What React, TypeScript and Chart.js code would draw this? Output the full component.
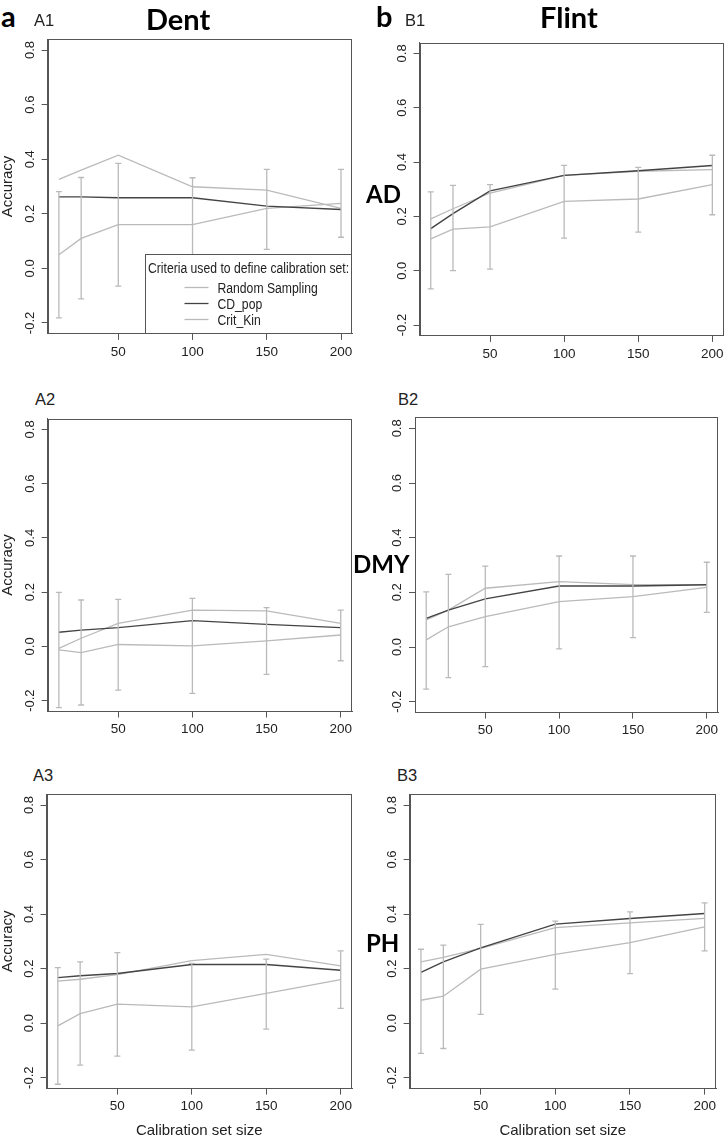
import React, { useEffect, useRef } from "react";
import { Chart, registerables } from "chart.js";

Chart.register(...registerables);

// ---------- data ----------
const sizes = [10, 25, 50, 100, 150, 200];
const xTicks = [50, 100, 150, 200];
const yTicks = [-0.2, 0, 0.2, 0.4, 0.6, 0.8];
const seriesNames = ["Random Sampling", "CD_pop", "Crit_Kin"];
const legendTitle = "Criteria used to define calibration set:";

// A1 — Dent, AD
const a1Random = [0.05, 0.11, 0.16, 0.16, 0.22, 0.238];
const a1CdPop = [0.262, 0.262, 0.259, 0.259, 0.228, 0.216];
const a1CritKin = [0.326, 0.36, 0.415, 0.299, 0.287, 0.22];
const a1Low = [-0.181, -0.112, -0.065, -0.012, 0.07, 0.114];
const a1High = [0.281, 0.333, 0.385, 0.332, 0.363, 0.363];

// B1 — Flint, AD
const b1Random = [0.117, 0.153, 0.161, 0.255, 0.264, 0.317];
const b1CdPop = [0.155, 0.21, 0.294, 0.351, 0.368, 0.387];
const b1CritKin = [0.191, 0.228, 0.286, 0.351, 0.366, 0.372];
const b1Low = [-0.067, 0.0, 0.006, 0.12, 0.142, 0.206];
const b1High = [0.29, 0.314, 0.317, 0.388, 0.38, 0.425];

// A2 — Dent, DMY
const a2Random = [-0.013, -0.023, 0.007, 0.002, 0.02, 0.042];
const a2CdPop = [0.052, 0.06, 0.069, 0.095, 0.081, 0.069];
const a2CritKin = [-0.007, 0.03, 0.085, 0.134, 0.131, 0.085];
const a2Low = [-0.226, -0.216, -0.161, -0.173, -0.103, -0.053];
const a2High = [0.199, 0.171, 0.173, 0.177, 0.143, 0.134];

// B2 — Flint, DMY
const b2Random = [0.026, 0.074, 0.111, 0.166, 0.184, 0.218];
const b2CdPop = [0.105, 0.135, 0.176, 0.223, 0.223, 0.228];
const b2CritKin = [0.099, 0.135, 0.215, 0.239, 0.228, 0.228];
const b2Low = [-0.154, -0.112, -0.072, -0.007, 0.034, 0.127];
const b2High = [0.202, 0.266, 0.296, 0.333, 0.333, 0.31];

// A3 — Dent, PH
const a3Random = [-0.01, 0.035, 0.07, 0.06, 0.109, 0.16];
const a3CdPop = [0.167, 0.174, 0.182, 0.215, 0.215, 0.194];
const a3CritKin = [0.154, 0.161, 0.178, 0.229, 0.252, 0.21];
const a3Low = [-0.224, -0.154, -0.121, -0.099, -0.022, 0.054];
const a3High = [0.204, 0.225, 0.259, 0.219, 0.235, 0.265];

// B3 — Flint, PH
const b3Random = [0.084, 0.099, 0.198, 0.252, 0.295, 0.353];
const b3CdPop = [0.186, 0.225, 0.276, 0.363, 0.384, 0.402];
const b3CritKin = [0.225, 0.241, 0.274, 0.35, 0.368, 0.384];
const b3Low = [-0.111, -0.093, 0.032, 0.125, 0.182, 0.265];
const b3High = [0.271, 0.286, 0.362, 0.374, 0.408, 0.441];

// ---------- style ----------
const FAMILY = "'Liberation Sans', Arial, sans-serif";
const BOLD_FAMILY = "Lato, 'Open Sans', sans-serif";
const LIGHT = "#bababa";
const DARK = "#444444";
const AXIS = "#555555";
const TEXT = "#222222";

type Box = { l: number; r: number; t: number; b: number };
type PanelProps = {
  box: Box;
  canvasLeft: number;
  random: number[];
  cdPop: number[];
  critKin: number[];
  low: number[];
  high: number[];
  yTitle: boolean;
  xTitle: boolean;
  legend: boolean;
};

function Panel(p: PanelProps) {
  const ref = useRef<HTMLCanvasElement | null>(null);
  const cTop = Math.floor(p.box.t - 4);
  const cBottom = p.xTitle ? 1141 : Math.ceil(p.box.b + 32);
  const cRight = Math.min(728, Math.ceil(p.box.r + 5));
  const W = cRight - p.canvasLeft;
  const H = cBottom - cTop;
  const Ly = p.box.l - p.canvasLeft;
  const padTop = p.box.t - cTop;
  const padRight = cRight - p.box.r;
  const Lx = cBottom - p.box.b;

  useEffect(() => {
    if (!ref.current) return;
    const errorBars = {
      id: "errorBars",
      afterDatasetsDraw(chart: any) {
        const { ctx, scales } = chart;
        const x = scales.x;
        const y = scales.y;
        ctx.save();
        ctx.strokeStyle = LIGHT;
        ctx.lineWidth = 1.3;
        sizes.forEach((s, i) => {
          const px = x.getPixelForValue(s);
          const y1 = y.getPixelForValue(p.low[i]);
          const y2 = y.getPixelForValue(p.high[i]);
          ctx.beginPath();
          ctx.moveTo(px, y1);
          ctx.lineTo(px, y2);
          ctx.moveTo(px - 3, y1);
          ctx.lineTo(px + 3, y1);
          ctx.moveTo(px - 3, y2);
          ctx.lineTo(px + 3, y2);
          ctx.stroke();
        });
        ctx.restore();
      },
    };
    const frame = {
      id: "frame",
      afterDraw(chart: any) {
        const { ctx, chartArea: a } = chart;
        ctx.save();
        ctx.strokeStyle = AXIS;
        ctx.lineWidth = 1;
        const l = Math.round(a.left) + 0.5;
        const t = Math.round(a.top) + 0.5;
        const r = Math.round(a.right) - 0.5;
        const b = Math.round(a.bottom) - 0.5;
        ctx.strokeRect(l, t, r - l, b - t);
        if (p.legend) {
          const w = 207;
          const h = 80;
          const x0 = Math.round(a.right - w) + 0.5;
          const y0 = Math.round(a.bottom - h) + 0.5;
          ctx.fillStyle = "#ffffff";
          ctx.fillRect(x0, y0, r - x0, b - y0);
          ctx.strokeRect(x0, y0, r - x0, b - y0);
          const sx = 0.87;
          const drawText = (txt: string, x: number, y: number, align: CanvasTextAlign, base: CanvasTextBaseline) => {
            ctx.save();
            ctx.translate(x, y);
            ctx.scale(sx, 1);
            ctx.fillStyle = TEXT;
            ctx.font = `14px ${FAMILY}`;
            ctx.textAlign = align;
            ctx.textBaseline = base;
            ctx.fillText(txt, 0, 0);
            ctx.restore();
          };
          drawText(legendTitle, x0 + (r - x0) / 2, y0 + 18.5, "center", "alphabetic");
          const colors = [LIGHT, DARK, LIGHT];
          seriesNames.forEach((name, i) => {
            const yy = y0 + 33 + i * 16;
            ctx.strokeStyle = colors[i];
            ctx.lineWidth = 1.3;
            ctx.beginPath();
            ctx.moveTo(x0 + 39, yy);
            ctx.lineTo(x0 + 63, yy);
            ctx.stroke();
            drawText(name, x0 + 72, yy + 5, "left", "alphabetic");
          });
        }
        ctx.restore();
      },
    };
    const mk = (vals: number[]) => sizes.map((x, i) => ({ x, y: vals[i] }));
    const chart = new Chart(ref.current, {
      type: "line",
      data: {
        datasets: [
          { label: seriesNames[0], data: mk(p.random), borderColor: LIGHT, borderWidth: 1.3, pointRadius: 0, order: 2 },
          { label: seriesNames[1], data: mk(p.cdPop), borderColor: DARK, borderWidth: 1.4, pointRadius: 0, order: 0 },
          { label: seriesNames[2], data: mk(p.critKin), borderColor: LIGHT, borderWidth: 1.3, pointRadius: 0, order: 1 },
        ],
      },
      options: {
        responsive: false,
        animation: false,
        devicePixelRatio: 1,
        layout: { padding: { left: 0, top: padTop, right: padRight, bottom: 0 } },
        plugins: { legend: { display: false }, tooltip: { enabled: false } },
        elements: { line: { tension: 0 } },
        scales: {
          x: {
            type: "linear",
            min: 2.4,
            max: 207.6,
            afterBuildTicks: (s: any) => {
              s.ticks = xTicks.map((v) => ({ value: v }));
            },
            afterFit: (s: any) => {
              s.height = Lx;
              s.paddingLeft = 0;
              s.paddingRight = 0;
            },
            grid: { display: true, drawOnChartArea: false, drawTicks: true, tickLength: 6, color: AXIS, lineWidth: 1 },
            border: { display: true, color: AXIS },
            ticks: {
              color: TEXT,
              font: { family: FAMILY, size: 13.5 },
              padding: 4,
              minRotation: 0,
              maxRotation: 0,
              autoSkip: false,
              callback: (v: any) => String(v),
            },
            title: {
              display: p.xTitle,
              text: "Calibration set size",
              color: TEXT,
              font: { family: FAMILY, size: 15 },
              padding: { top: 0, bottom: 1 },
            },
          },
          y: {
            type: "linear",
            min: -0.24,
            max: 0.84,
            afterBuildTicks: (s: any) => {
              s.ticks = yTicks.map((v) => ({ value: v }));
            },
            afterFit: (s: any) => {
              s.width = Ly;
              s.paddingTop = 0;
              s.paddingBottom = 0;
            },
            grid: { display: true, drawOnChartArea: false, drawTicks: true, tickLength: 6, color: AXIS, lineWidth: 1 },
            border: { display: true, color: AXIS },
            ticks: {
              color: TEXT,
              font: { family: FAMILY, size: 13 },
              padding: 0,
              minRotation: 90,
              maxRotation: 90,
              crossAlign: "center",
              autoSkip: false,
              callback: (v: any) => Number(v).toFixed(1),
            },
            title: {
              display: p.yTitle,
              text: "Accuracy",
              color: TEXT,
              font: { family: FAMILY, size: 15 },
              padding: { top: -1, bottom: 0 },
            },
          },
        },
      } as any,
      plugins: [errorBars, frame],
    });
    return () => chart.destroy();
  }, []);

  return (
    <canvas
      ref={ref}
      width={W}
      height={H}
      style={{ position: "absolute", left: p.canvasLeft, top: cTop, width: W, height: H }}
    />
  );
}

type LabelProps = { text: string; left: number; baseline: number; size: number; bold?: boolean };
function Label({ text, left, baseline, size, bold }: LabelProps) {
  const k = bold ? 0.887 : 0.8465;
  return (
    <div
      style={{
        position: "absolute",
        left,
        top: baseline - k * size,
        fontFamily: bold ? BOLD_FAMILY : FAMILY,
        fontWeight: bold ? 700 : 400,
        fontSize: size,
        lineHeight: `${size}px`,
        color: bold ? "#000" : TEXT,
        whiteSpace: "nowrap",
        zIndex: 2,
      }}
    >
      {text}
    </div>
  );
}

export default function App() {
  return (
    <div
      style={{
        position: "absolute",
        left: 0,
        top: 0,
        width: 728,
        height: 1141,
        overflow: "hidden",
        background: "#ffffff",
      }}
    >
      <Panel box={{ l: 47.6, r: 352.3, t: 39.1, b: 333.9 }} canvasLeft={0} random={a1Random} cdPop={a1CdPop} critKin={a1CritKin} low={a1Low} high={a1High} yTitle xTitle={false} legend />
      <Panel box={{ l: 419.5, r: 723.6, t: 42.5, b: 335.9 }} canvasLeft={364} random={b1Random} cdPop={b1CdPop} critKin={b1CritKin} low={b1Low} high={b1High} yTitle={false} xTitle={false} legend={false} />
      <Panel box={{ l: 47.6, r: 352, t: 418.5, b: 711.5 }} canvasLeft={0} random={a2Random} cdPop={a2CdPop} critKin={a2CritKin} low={a2Low} high={a2High} yTitle xTitle={false} legend={false} />
      <Panel box={{ l: 415, r: 718, t: 417.4, b: 712.6 }} canvasLeft={364} random={b2Random} cdPop={b2CdPop} critKin={b2CritKin} low={b2Low} high={b2High} yTitle={false} xTitle={false} legend={false} />
      <Panel box={{ l: 46.5, r: 352, t: 794.1, b: 1088.6 }} canvasLeft={0} random={a3Random} cdPop={a3CdPop} critKin={a3CritKin} low={a3Low} high={a3High} yTitle xTitle legend={false} />
      <Panel box={{ l: 409.6, r: 716, t: 794.1, b: 1088.6 }} canvasLeft={364} random={b3Random} cdPop={b3CdPop} critKin={b3CritKin} low={b3Low} high={b3High} yTitle={false} xTitle legend={false} />

      <Label text="a" left={1} baseline={27} size={29} bold />
      <Label text="A1" left={34} baseline={26} size={16.5} />
      <Label text="Dent" left={146} baseline={30} size={29} bold />
      <Label text="b" left={376} baseline={27} size={29} bold />
      <Label text="B1" left={405} baseline={26} size={16.5} />
      <Label text="Flint" left={540} baseline={28} size={29} bold />
      <Label text="A2" left={35} baseline={405} size={16.5} />
      <Label text="B2" left={398} baseline={405} size={16.5} />
      <Label text="A3" left={33} baseline={781} size={16.5} />
      <Label text="B3" left={397} baseline={781} size={16.5} />
      <Label text="AD" left={366} baseline={203} size={24} bold />
      <Label text="DMY" left={353} baseline={573} size={24} bold />
      <Label text="PH" left={366} baseline={952} size={24} bold />
    </div>
  );
}
